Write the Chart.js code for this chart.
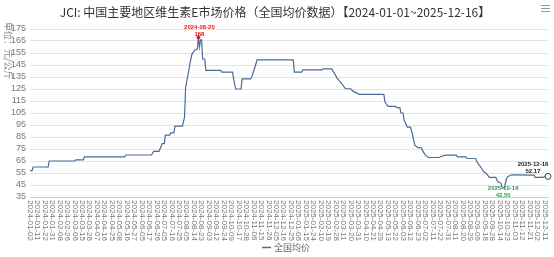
<!DOCTYPE html>
<html><head><meta charset="utf-8">
<script src="https://cdn.jsdelivr.net/npm/chart.js@4.4.1/dist/chart.umd.min.js"></script>
<style>html,body{margin:0;padding:0;background:#fff;}#wrap{width:554px;height:257px;}</style>
</head><body><div id="wrap"><canvas id="c" width="554" height="257"></canvas></div>
<script>
const titleText = 'JCI: 中国主要地区维生素E市场价格（全国均价数据）【2024-01-01~2025-12-16】';
const yAxisName = '单位：元/公斤';
const seriesName = '全国均价';
const tickStep = 7;
const tickDates = ['2024-01-02','2024-01-11','2024-01-22','2024-01-31','2024-02-08','2024-02-26','2024-03-06','2024-03-15','2024-03-26','2024-04-07','2024-04-16','2024-04-25','2024-05-08','2024-05-16','2024-05-27','2024-06-05','2024-06-17','2024-06-26','2024-07-05','2024-07-16','2024-07-25','2024-08-05','2024-08-14','2024-08-23','2024-09-03','2024-09-12','2024-09-24','2024-10-09','2024-10-17','2024-10-28','2024-11-06','2024-11-15','2024-11-26','2024-12-05','2024-12-16','2024-12-25','2025-01-06','2025-01-15','2025-01-24','2025-02-10','2025-02-19','2025-02-28','2025-03-11','2025-03-20','2025-03-31','2025-04-10','2025-04-21','2025-04-29','2025-05-13','2025-05-22','2025-06-03','2025-06-12','2025-06-23','2025-07-02','2025-07-11','2025-07-22','2025-07-31','2025-08-11','2025-08-20','2025-08-29','2025-09-09','2025-09-18','2025-09-28','2025-10-14','2025-10-23','2025-11-03','2025-11-12','2025-11-21','2025-12-02','2025-12-11'];
const lastDay = 486;
const dayIndex = [0,2,3,17,18,42,43,50,51,89,90,114,116,121,123,124,126,127,131,132,135,136,143,145,146,149,150,152,155,157,158,159,160,161,162,164,165,179,180,190,191,193,198,199,207,208,210,212,213,247,248,255,256,274,275,283,285,288,290,293,296,301,303,309,332,333,336,343,344,347,348,350,351,354,357,359,361,364,367,369,371,374,384,386,390,400,401,409,410,418,419,421,423,425,428,431,437,439,442,443,445,447,448,452,473,474,481,483,486];
const price = [57,57,60,60,65,65,66,66,68.5,68.5,70,70,73,73,77,79.5,79.5,86.5,86.5,88.4,88.4,94,94,101.6,126.5,140.4,146,154.3,157.6,158.5,168,160,166,166,150,150,140.5,140.5,139,139,133.5,125,125,133.5,133.5,135,140.4,146,149.3,149.3,139,139,141,141,141.8,141.8,139,134.3,132,128.8,125.2,125.2,123.2,120.5,120.5,114.1,110.5,110.5,109.4,109.4,105,105,98.9,93.3,93.3,86.5,78.2,76.2,76.2,72.6,69.9,67.9,67.9,69,69.9,69.9,68.5,68.5,67.1,67.1,65,62,60,56.8,54.6,51.3,51.3,47.7,46.4,42.5,42.5,50,52,53.5,53.3,51.3,51.3,52.2,52.17];
const maxDate = '2024-08-20', minDate = '2025-10-16', lastDate = '2025-12-16';

const LINE = '#4a6a9c';
let maxI = 0, minI = 0;
price.forEach((v,i)=>{ if(v>price[maxI]) maxI=i; if(v<price[minI]) minI=i; });
const lastI = price.length-1;

const decor = {
  id:'decor',
  afterDraw(chart){
    const ctx = chart.ctx, xs = chart.scales.x, ys = chart.scales.y, ca = chart.chartArea;
    ctx.save();
    ctx.fillStyle = '#333'; ctx.font = '12px "Noto Sans CJK SC", sans-serif';
    ctx.textAlign = 'center'; ctx.textBaseline = 'middle';
    ctx.fillText(titleText, 275, 12);
    ctx.strokeStyle = '#999'; ctx.lineWidth = 1;
    for(let k=0;k<3;k++){ ctx.beginPath(); ctx.moveTo(541, 5.5+k*3); ctx.lineTo(550, 5.5+k*3); ctx.stroke(); }
    ctx.save(); ctx.translate(8, 22); ctx.rotate(Math.PI/2);
    ctx.fillStyle = '#888'; ctx.font = '9px "Noto Sans CJK SC", sans-serif';
    ctx.textAlign='left'; ctx.textBaseline='middle'; ctx.fillText(yAxisName, 0, 0); ctx.restore();
    ctx.fillStyle = '#777'; ctx.font = '8px "Liberation Sans", sans-serif';
    tickDates.forEach((d,k)=>{
      const x = xs.getPixelForValue(k*tickStep);
      ctx.save(); ctx.translate(x, ca.bottom+3); ctx.rotate(Math.PI/2);
      ctx.textAlign='left'; ctx.textBaseline='middle'; ctx.fillText(d,0,0); ctx.restore();
    });
    const ds = chart.data.datasets[0];
    ctx.strokeStyle = ds.borderColor; ctx.lineWidth = 1.5;
    ctx.beginPath(); ctx.moveTo(262, 247.5); ctx.lineTo(271, 247.5); ctx.stroke();
    ctx.fillStyle = '#666'; ctx.font = '9px "Noto Sans CJK SC", sans-serif';
    ctx.textAlign='left'; ctx.textBaseline='middle'; ctx.fillText(ds.label, 274, 247.5);
    ctx.textAlign='center'; ctx.textBaseline='middle';
    ctx.font = 'bold 6px "Liberation Sans", sans-serif';
    let px = xs.getPixelForValue(dayIndex[maxI]), py = ys.getPixelForValue(price[maxI]);
    ctx.fillStyle = '#e8151b';
    ctx.fillText(maxDate, px+1, py-10); ctx.fillText(String(price[maxI]), px+1, py-3);
    px = xs.getPixelForValue(dayIndex[minI]); py = ys.getPixelForValue(price[minI]);
    ctx.fillStyle = '#2f9a55';
    ctx.fillText(minDate, px+1, py); ctx.fillText(price[minI].toFixed(2), px+1, py+7);
    px = xs.getPixelForValue(dayIndex[lastI]); py = ys.getPixelForValue(price[lastI]);
    ctx.fillStyle = '#222';
    ctx.fillText(lastDate, px-15, py-12); ctx.fillText(price[lastI].toFixed(2), px-15, py-5.5);
    ctx.restore();
  }
};

new Chart(document.getElementById('c'), {
  type:'line',
  data:{ datasets:[{
    label: seriesName,
    data: dayIndex.map((d,i)=>({x:d, y:price[i]})),
    borderColor: LINE, backgroundColor: LINE, borderWidth: 1.2, tension: 0, fill:false, clip: 8,
    pointRadius: c => c.dataIndex===lastI ? 3 : (c.dataIndex===maxI ? 1.5 : 0),
    pointBackgroundColor: c => c.dataIndex===maxI ? '#e8151b' : '#fff',
    pointBorderColor: c => c.dataIndex===maxI ? '#e8151b' : '#444',
    pointBorderWidth: 1, pointHoverRadius: 0
  }]},
  options:{
    animation:false, responsive:false, maintainAspectRatio:false,
    layout:{ padding:{ top:29, right:6, left:0, bottom:0 } },
    plugins:{ legend:{ display:false }, tooltip:{enabled:false}, title:{display:false} },
    scales:{
      x:{ type:'linear', min:0, max:lastDay, grid:{display:false, drawTicks:false}, border:{display:true, color:'#ccc'}, ticks:{display:false}, afterFit: s => { s.height = 60; } },
      y:{ min:35, max:175, ticks:{ stepSize:10, autoSkip:false, font:{size:9, family:'"Liberation Sans", sans-serif'}, color:'#777', padding:4 }, grid:{ color:'#e4e4e4', drawTicks:false }, border:{display:false}, afterFit: s => { s.width = 30; } }
    }
  },
  plugins:[decor]
});
</script></body></html>
